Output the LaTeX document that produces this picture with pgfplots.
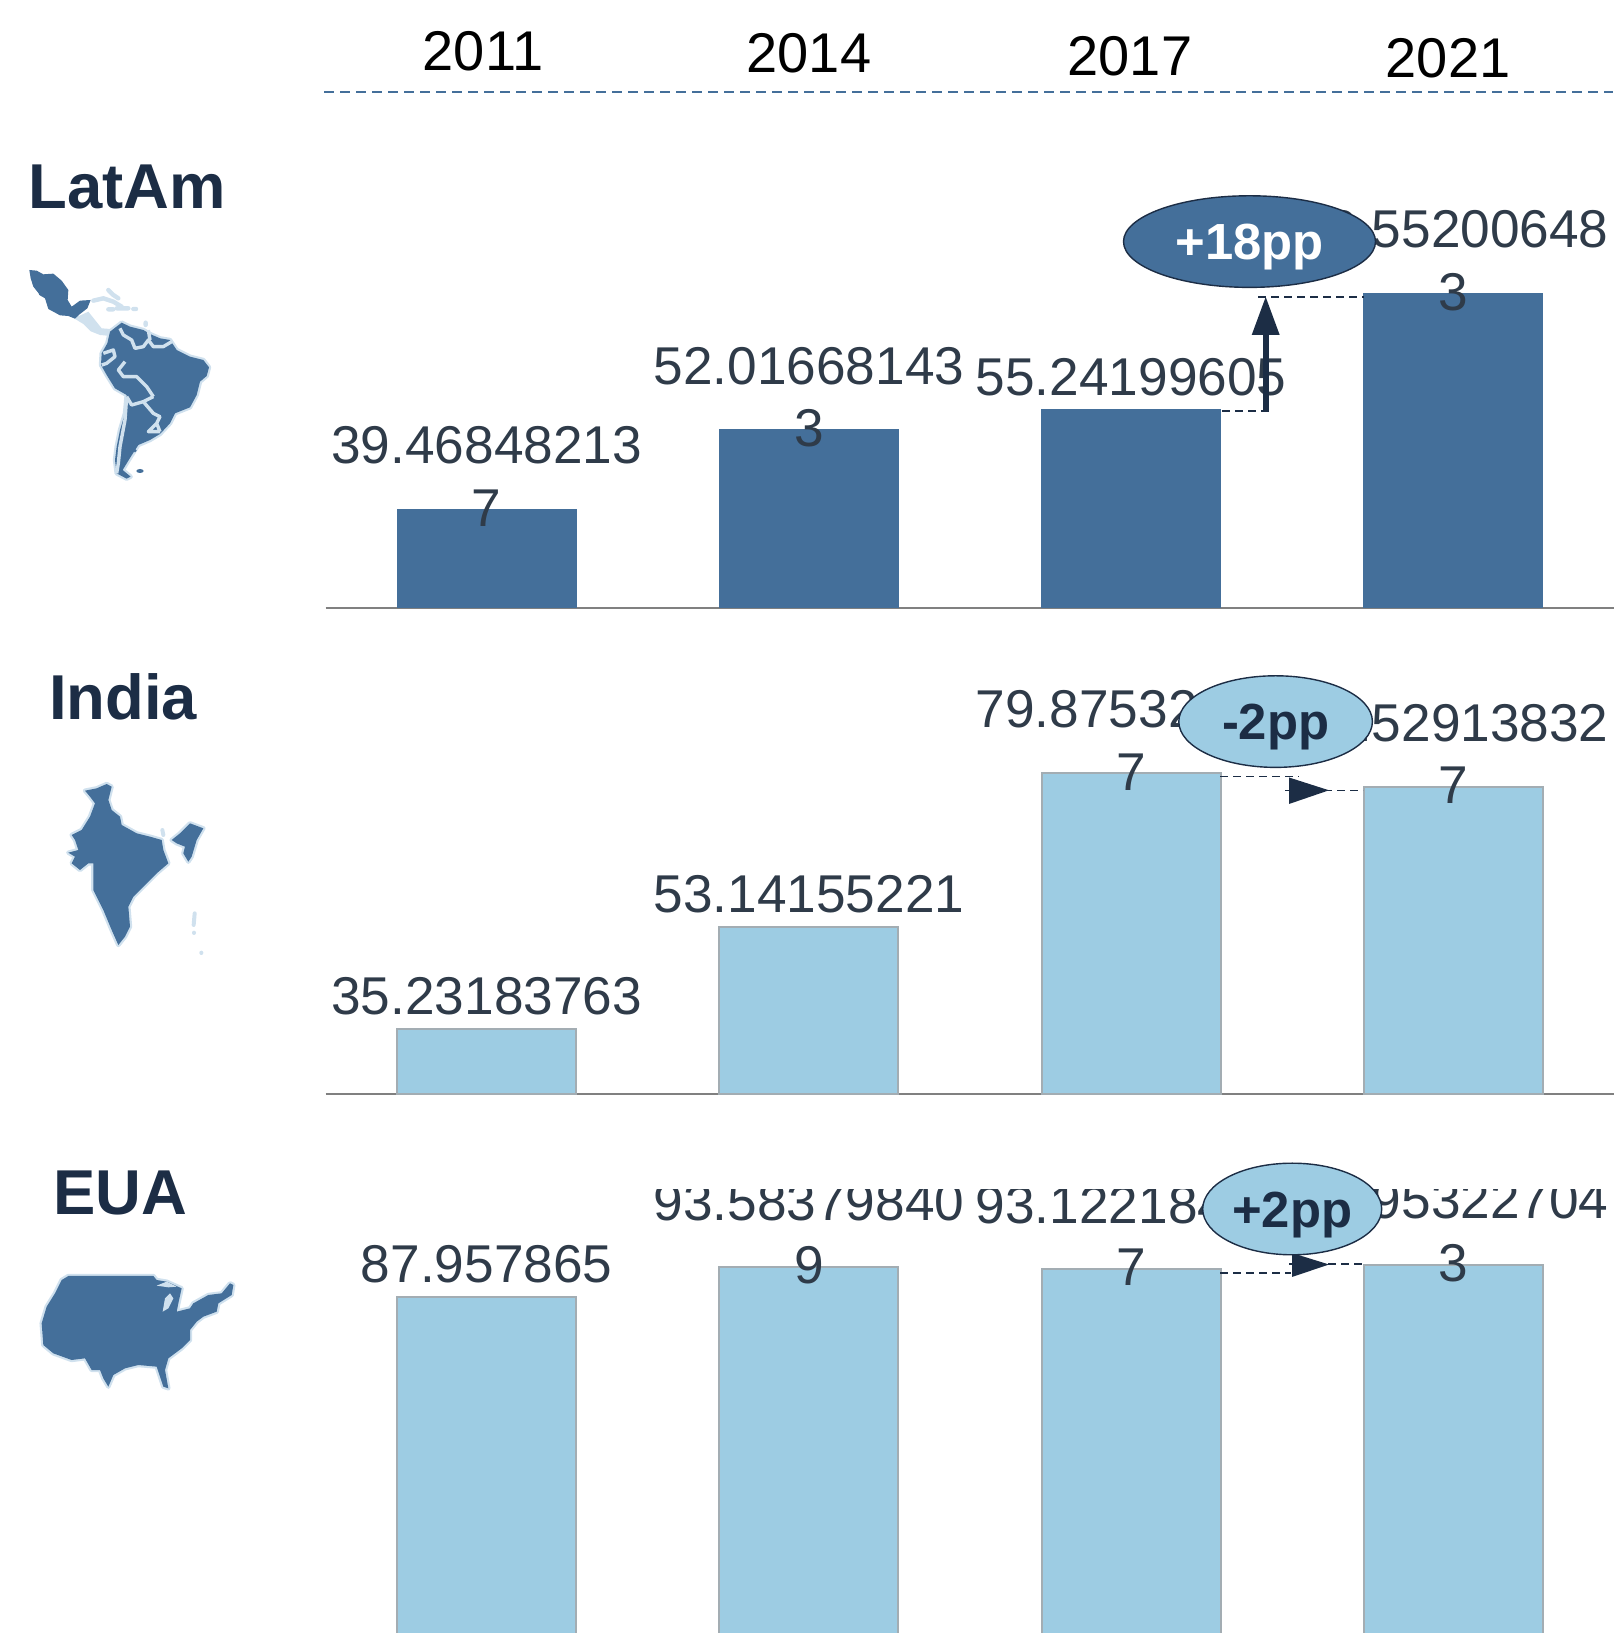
\documentclass[border=0pt]{standalone}
\usepackage{fontspec}
\setmainfont{Liberation Sans}
\usepackage{pgfplots}
\pgfplotsset{compat=1.18}
\definecolor{darkbar}{HTML}{446F9A}
\definecolor{lightbar}{HTML}{9DCCE3}
\definecolor{barline}{HTML}{A3ADB3}
\definecolor{navy}{HTML}{1C2D45}
\definecolor{labeltxt}{HTML}{2F3B49}
\definecolor{mapline}{HTML}{D0E1EE}
\definecolor{baseline}{HTML}{808080}
\pgfplotsset{
  panel/.style={
    scale only axis, width=644.4pt,
    xmin=-0.5, xmax=3.5,
    axis y line=none, axis x line=bottom,
    xtick=\empty, ytick=\empty,
    x axis line style={-, draw=baseline, line width=1pt},
    clip=false,
    ybar, bar width=89.5pt,
    point meta=explicit symbolic,
    nodes near coords,
    nodes near coords style={anchor=center, yshift=16.4pt, align=center,
      font=\fontsize{26.6}{31.2}\selectfont, text=labeltxt},
  },
}
\tikzset{mapshape/.style={fill=darkbar, line join=round, preaction={draw=mapline, line width=2.2pt, line join=round}}}
\begin{document}
\begin{tikzpicture}[x=0.5pt,y=0.5pt]
\useasboundingbox (0,0) rectangle (1615,1633);

% LatAm
\begin{axis}[panel, at={(162.8pt,512.7pt)}, anchor=south west, height=177.4pt, ymin=23.95, ymax=80]
\addplot[fill=darkbar, draw=darkbar, line width=0.5pt] coordinates {
 (0,39.468482137) [39.46848213\\7]
 (1,52.016681433) [52.01668143\\3]
 (2,55.24199605) [55.24199605]
 (3,73.552006483) [73.55200648\\3]
};
\end{axis}

% India
\begin{axis}[panel, at={(162.8pt,269.5pt)}, anchor=south west, height=175pt, ymin=23.96, ymax=85]
\addplot[fill=lightbar, draw=barline, line width=1pt] coordinates {
 (0,35.23183763) [35.23183763]
 (1,53.14155221) [53.14155221]
 (2,79.875321667) [79.87532166\\7]
 (3,77.529138327) [77.52913832\\7]
};
\end{axis}

% EUA
\begin{scope}
\clip (0,0) rectangle (1615,443);
\begin{axis}[panel, at={(162.8pt,-14.25pt)}, anchor=south west, height=214.7pt, ymin=20, ymax=100,
  axis x line=none]
\addplot[fill=lightbar, draw=barline, line width=1pt] coordinates {
 (0,87.957865) [87.957865]
 (1,93.583798409) [93.58379840\\9]
 (2,93.122184567) [93.12218456\\7]
 (3,93.953227043) [93.95322704\\3]
};
\end{axis}
\end{scope}

% annotations, in reference pixels, y downwards
\begin{scope}[shift={(0,1633)}, y=-0.5pt]
  % header
  \draw[darkbar, line width=1pt, dash pattern=on 5pt off 3pt] (324,91.6) -- (1613,91.6);
  \foreach \xx/\yy/\tt in {483/71/2011, 809/73/2014, 1130/76/2017, 1448/78/2021}
    \node[anchor=base, inner sep=0pt, text=black, font=\fontsize{28}{32}\selectfont] at (\xx,\yy) {\tt};
  % titles
  \foreach \xx/\yy/\tt in {127/209/LatAm, 123/720/India, 120/1215/EUA}
    \node[anchor=base, inner sep=0pt, text=navy, font=\fontsize{31.7}{36}\selectfont\bfseries] at (\xx,\yy) {\tt};

  % LatAm arrow
  \draw[navy, line width=0.6pt, dash pattern=on 4pt off 2.5pt] (1222,411) -- (1271,411);
  \draw[navy, line width=0.6pt, dash pattern=on 4pt off 2.5pt] (1258,297) -- (1364,297);
  \draw[navy, line width=3pt] (1265.7,411) -- (1265.7,330);
  \fill[navy] (1265.7,297) -- (1279.7,335) -- (1251.7,335) -- cycle;
  % India arrow
  \draw[navy, line width=0.6pt, dash pattern=on 4pt off 2.5pt] (1220.4,776.8) -- (1299,776.8);
  \draw[navy, line width=0.6pt, dash pattern=on 4pt off 2.5pt] (1285,790.3) -- (1363,790.3);
  \fill[navy] (1329,790.3) -- (1289,777.5) -- (1289,804) -- cycle;
  % EUA arrow
  \draw[navy, line width=0.6pt, dash pattern=on 4pt off 2.5pt] (1220.4,1273) -- (1291,1273);
  \draw[navy, line width=0.6pt, dash pattern=on 4pt off 2.5pt] (1289,1264) -- (1363,1264);
  \fill[navy] (1329,1264.5) -- (1292,1253) -- (1292,1277) -- cycle;

  % ellipses
  \draw[navy, fill=darkbar, line width=0.7pt] (1249.5,241.6) ellipse [x radius=126, y radius=45.8];
  \node[text=white, font=\fontsize{25.4}{30}\selectfont\bfseries, inner sep=0pt] at (1249.5,247) {+18pp};
  \draw[navy, fill=lightbar, line width=0.7pt] (1275.6,721.6) ellipse [x radius=96.8, y radius=45.8];
  \node[text=navy, font=\fontsize{25.4}{30}\selectfont\bfseries, inner sep=0pt] at (1275.6,727) {-2pp};
  \draw[navy, fill=lightbar, line width=0.7pt] (1292.2,1209) ellipse [x radius=89.5, y radius=45.8];
  \node[text=navy, font=\fontsize{25.4}{30}\selectfont\bfseries, inner sep=0pt] at (1292.2,1215) {+2pp};

  % LatAm map (trace in crop coordinates, 3 per pixel)
  \begin{scope}[shift={(0,130)}, x=0.16667pt, y=-0.16667pt]
    \draw[mapline, line width=2.2pt, line cap=round, line join=round]
      (280,512)--(310,505)--(340,515)--(365,530)
      (325,538)--(340,538) (350,535)--(385,535) (400,537)--(408,537)
      (325,480)--(340,495)--(355,505) (437,578)--(437,585);
    \fill[mapline] (222,565)--(265,545)--(285,570)--(305,595)--(332,597)--(332,618)--(300,615)--(272,604)--(250,582)--cycle;
    \fill[darkbar] (88,420)--(110,422)--(130,433)--(160,431)--(185,452)--(205,480)--(203,510)--(215,530)--(240,512)--(272,510)--(262,535)--(240,552)--(225,566)--(205,558)--(180,556)--(145,537)--(135,505)--(118,495)--(108,470)--(120,495)--(100,470)--(92,445)--cycle;
    \path[mapshape]
      (330,605)--(365,578)--(390,590)--(430,600)--(450,612)--(480,625)--(510,630)--(530,660)--(570,680)--(610,690)--(627,712)--(620,738)--(600,755)--(590,795)--(570,832)--(525,850)--(510,880)--(480,912)--(450,930)--(415,945)--(402,965)--(385,992)--(368,1020)--(392,1040)--(380,1046)--(350,1030)--(345,990)--(350,950)--(360,900)--(375,850)--(380,795)--(345,775)--(320,735)--(303,705)--(305,670)--(322,640)--cycle;
    \draw[mapline, line width=1.7pt, line join=round]
      (360,595)--(370,615)--(395,630)--(405,655)--(430,650)--(445,630)--(460,650)--(490,650)--(515,635)
      (445,600)--(450,630)
      (310,670)--(340,660)--(345,680)--(320,700)--(305,705)
      (375,695)--(355,720)--(370,740)--(410,740)--(440,770)--(460,800)
      (380,800)--(375,870)--(360,950)--(355,1000)--(350,1030)
      (380,800)--(395,825)--(430,815)--(460,800)
      (430,815)--(460,850)--(480,860)--(470,880)--(445,905)--(480,905)
      (470,880)--(480,905);
    \fill[darkbar] (420,1023) ellipse [x radius=11, y radius=6];
    \fill[darkbar] (405,962) circle [radius=5];
  \end{scope}
  % India map
  \begin{scope}[shift={(0,660)}, x=0.16667pt, y=-0.16667pt]
    \path[mapshape]
      (255,392)--(290,385)--(320,372)--(335,380)--(325,420)--(335,450)--(360,470)--(365,495)--(410,520)--(450,530)--(485,540)--(490,570)--(505,610)--(470,640)--(440,670)--(400,710)--(385,740)--(390,800)--(375,830)--(355,855)--(335,810)--(310,750)--(280,690)--(280,610)--(265,610)--(240,630)--(215,610)--(225,590)--(205,578)--(235,570)--(225,540)--(215,525)--(245,510)--(270,470)--(285,430)--(270,410)--cycle;
    \path[mapshape]
      (515,540)--(540,520)--(570,490)--(610,505)--(590,540)--(575,590)--(565,605)--(550,580)--(555,560)--(530,550)--cycle;
    \draw[mapline, line width=2pt, line cap=round] (584,760)--(581,795) (582,818)--(582,819) (604,878)--(604,879) (487,510)--(490,525);
  \end{scope}
  % USA map
  \begin{scope}[shift={(0,1140)}, x=0.16667pt, y=-0.16667pt]
    \path[mapshape]
      (205,408)--(460,408)--(470,420)--(500,425)--(545,445)--(535,490)--(530,515)--(570,505)--(580,490)--(625,465)--(665,460)--(690,430)--(700,435)--(695,465)--(655,490)--(650,515)--(610,530)--(590,545)--(570,570)--(570,600)--(545,625)--(505,655)--(495,690)--(505,745)--(490,740)--(470,680)--(415,675)--(375,685)--(340,705)--(325,740)--(310,715)--(300,690)--(275,690)--(255,655)--(215,660)--(160,640)--(130,615)--(125,550)--(140,500)--(165,460)--(185,420)--cycle;
    \fill[mapline] (495,475)--(510,460)--(520,475)--(505,505)--(488,515)--cycle;
    \fill[mapline] (470,437)--(500,425)--(530,440)--(505,442)--cycle;
  \end{scope}
\end{scope}
\end{tikzpicture}
\end{document}
